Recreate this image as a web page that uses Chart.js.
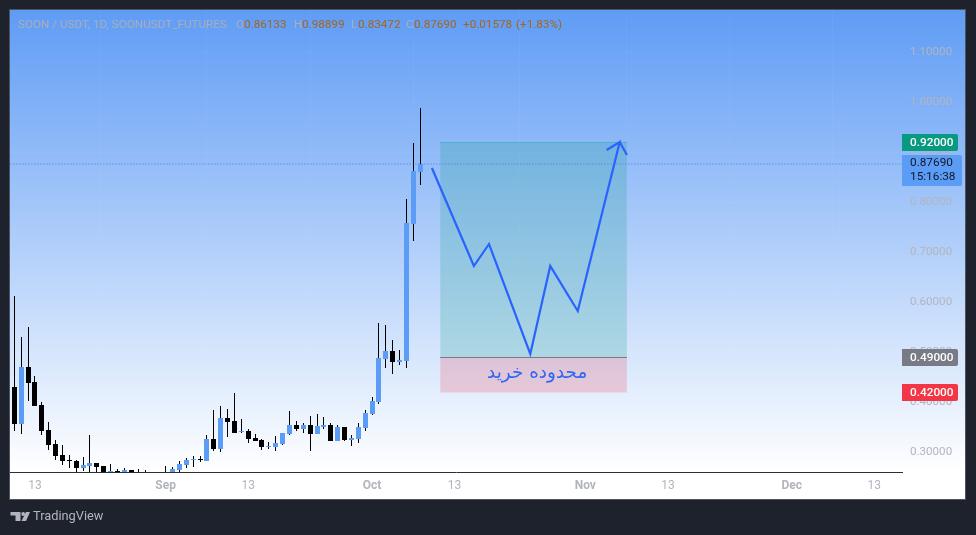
<!DOCTYPE html>
<html>
<head>
<meta charset="utf-8">
<title>SOON / USDT</title>
<style>
  html, body { margin: 0; padding: 0; background: #1e222d; }
  canvas { display: block; }
</style>
<script src="https://cdn.jsdelivr.net/npm/chart.js@4"></script>
</head>
<body>
<canvas id="myChart" width="976" height="535"></canvas>
<script>
// daily candles, index 0 = 10 Aug
var opens = [.431,.357,.471,.441,.395,.345,.317,.295,.285,.283,.269,.273,.279,.273,.257,.263,.257,.265,.255,.251,.237,.241,.245,.253,.265,.275,.285,.287,.283,.327,.307,.369,.363,.341,.343,.329,.325,.311,.311,.317,.337,.355,.347,.355,.337,.351,.355,.323,.351,.325,.327,.349,.377,.401,.487,.503,.481,.483,.757,.86133];
var closes = [.357,.471,.439,.393,.343,.315,.293,.283,.283,.269,.275,.279,.271,.253,.263,.259,.265,.253,.249,.245,.245,.247,.253,.267,.277,.285,.287,.285,.327,.307,.369,.361,.339,.343,.327,.323,.311,.313,.319,.339,.355,.347,.355,.337,.353,.355,.323,.351,.325,.329,.351,.379,.403,.489,.503,.481,.485,.759,.863,.8769];
var highs = [.613,.531,.551,.453,.401,.361,.325,.315,.295,.285,.291,.335,.279,.273,.277,.267,.269,.265,.267,.265,.253,.251,.273,.271,.283,.289,.293,.293,.335,.385,.393,.387,.419,.367,.347,.337,.327,.321,.333,.339,.383,.363,.359,.373,.377,.371,.359,.355,.351,.335,.359,.385,.411,.559,.555,.525,.505,.807,.919,.98899];
var lows = [.343,.337,.403,.393,.335,.305,.285,.275,.269,.255,.263,.249,.249,.241,.245,.245,.249,.249,.241,.237,.229,.233,.241,.245,.261,.269,.271,.281,.283,.303,.301,.331,.339,.339,.319,.323,.305,.307,.303,.315,.335,.343,.339,.303,.337,.347,.323,.323,.323,.313,.319,.343,.375,.397,.469,.457,.475,.469,.723,.83472];

var timeTicks = [3, 22, 34, 52, 64, 83, 95, 113, 125];
var timeLabels = ['13', 'Sep', '13', 'Oct', '13', 'Nov', '13', 'Dec', '13'];
var priceTicks = [0.3, 0.4, 0.5, 0.6, 0.7, 0.8, 0.9, 1.0, 1.1];

// drawn tools
var pathDays = [60.7, 66.8, 69, 75, 77.9, 81.9, 88, 86.1, 88, 89.05];
var pathPrices = [.869, .673, .717, .497, .673, .583, .921, .905, .921, .895];
var boxDays = [61.9, 89.05];
var targetPrice = 0.92;
var entryPrice = 0.49;
var stopPrice = 0.42;
var lastPrice = 0.8769;
var zoneLabel = 'محدوده خرید';
var zoneLabelDay = 76;
var zoneLabelPrice = 0.459;

var uiFont = 'Roboto, "Liberation Sans", sans-serif';
var upColor = '#5b9cf6';
var downColor = '#000000';

var candleColors = opens.map(function (o, i) {
    return closes[i] >= o ? upColor : downColor;
});
var bodies = opens.map(function (o, i) {
    return { x: i, y: [o, closes[i]] };
});
var wicks = highs.map(function (h, i) {
    return { x: i, y: [lows[i], h] };
});
function levelLine(price, days) {
    return days.map(function (d) { return { x: d, y: price }; });
}

var backgroundPlugin = {
    id: 'background',
    beforeDraw: function (chart) {
        var ctx = chart.ctx;
        ctx.save();
        ctx.fillStyle = '#1e222d';
        ctx.fillRect(0, 0, 976, 535);
        var grad = ctx.createLinearGradient(0, 10, 0, 472);
        grad.addColorStop(0, '#5f9cf5');
        grad.addColorStop(1, '#ffffff');
        ctx.fillStyle = grad;
        ctx.fillRect(10, 10, 955, 489);
        ctx.strokeStyle = '#50535e';
        ctx.lineWidth = 1;
        ctx.strokeRect(9.5, 9.5, 956, 490);
        ctx.restore();
    }
};

// snap the candles to whole pixels so the wicks stay sharp
var snapPlugin = {
    id: 'snap',
    beforeDatasetsDraw: function (chart) {
        chart.data.datasets.forEach(function (ds, i) {
            if (ds.type !== 'bar') return;
            chart.getDatasetMeta(i).data.forEach(function (el) {
                el.x = Math.floor(el.x) + 0.5;
                el.y = Math.round(el.y);
                el.base = Math.round(el.base);
                if (el.y === el.base) el.base = el.y + 1;
            });
        });
    }
};

function priceBox(ctx, y, w, color, text, textColor) {
    ctx.fillStyle = color;
    ctx.beginPath();
    ctx.roundRect(902, y - 8.5, w, 17, [0, 2, 2, 0]);
    ctx.fill();
    ctx.fillStyle = textColor;
    ctx.fillText(text, 910, y + 0.5);
}

var overlayPlugin = {
    id: 'overlay',
    afterDraw: function (chart) {
        var ctx = chart.ctx;
        var xs = chart.scales.x;
        var ys = chart.scales.y;
        ctx.save();

        // zone caption
        ctx.fillStyle = '#2f66f5';
        ctx.font = '18.4px "DejaVu Sans"';
        ctx.textAlign = 'center';
        ctx.textBaseline = 'middle';
        ctx.direction = 'rtl';
        ctx.fillText(zoneLabel, xs.getPixelForValue(zoneLabelDay), ys.getPixelForValue(zoneLabelPrice));
        ctx.direction = 'ltr';

        // price labels on the axis
        ctx.textAlign = 'left';
        ctx.font = '500 11.8px ' + uiFont;
        priceBox(ctx, ys.getPixelForValue(targetPrice), 56, '#089981', targetPrice.toFixed(5), '#ffffff');
        priceBox(ctx, ys.getPixelForValue(entryPrice), 56, '#787b86', entryPrice.toFixed(5), '#ffffff');
        priceBox(ctx, ys.getPixelForValue(stopPrice), 56, '#f23645', stopPrice.toFixed(5), '#ffffff');

        ctx.fillStyle = upColor;
        ctx.beginPath();
        ctx.roundRect(902, 155, 60, 31, [0, 2, 2, 0]);
        ctx.fill();
        ctx.fillStyle = '#131722';
        ctx.font = '11.8px ' + uiFont;
        ctx.fillText(lastPrice.toFixed(5), 910, 163.5);
        ctx.fillText('15:16:38', 910, 177.5);

        // header line
        ctx.font = '11.7px ' + uiFont;
        ctx.fillStyle = '#a8aebb';
        ctx.fillText('SOON / USDT, 1D, SOONUSDT_FUTURES', 18, 25);
        ctx.fillText('O', 236, 25);
        ctx.fillText('H', 294, 25);
        ctx.fillText('L', 351, 25);
        ctx.fillText('C', 406, 25);
        ctx.fillStyle = '#a5651f';
        ctx.fillText('0.86133', 244, 25);
        ctx.fillText('0.98899', 302, 25);
        ctx.fillText('0.83472', 358, 25);
        ctx.fillText('0.87690', 414, 25);
        ctx.fillText('+0.01578', 463, 25);
        ctx.fillText('(+1.83%)', 516, 25);

        // footer logo
        ctx.fillStyle = '#b2b5be';
        ctx.beginPath();
        ctx.rect(10.5, 512, 10, 3.5);
        ctx.rect(15.5, 512, 5, 9);
        ctx.fill();
        ctx.beginPath();
        ctx.arc(23.2, 514, 1.9, 0, Math.PI * 2);
        ctx.fill();
        ctx.beginPath();
        ctx.moveTo(26, 512);
        ctx.lineTo(30, 512);
        ctx.lineTo(26, 521);
        ctx.lineTo(21.5, 521);
        ctx.closePath();
        ctx.fill();
        ctx.font = '12.8px ' + uiFont;
        ctx.fillText('TradingView', 33, 517);

        ctx.restore();
    }
};

var ctx = document.getElementById('myChart').getContext('2d');
var myChart = new Chart(ctx, {
    type: 'bar',
    data: {
        datasets: [
            {
                type: 'line', order: 1, data: pathDays.map(function (d, i) { return { x: d, y: pathPrices[i] }; }),
                borderColor: '#2962ff', borderWidth: 2.2, pointRadius: 0, tension: 0, fill: false
            },
            {
                type: 'line', order: 2, data: levelLine(entryPrice, boxDays),
                borderColor: '#787b86', borderWidth: 1, pointRadius: 0, fill: false
            },
            {
                type: 'line', order: 3, data: levelLine(targetPrice, boxDays),
                borderColor: 'rgba(8,153,129,0.3)', borderWidth: 1, pointRadius: 0,
                backgroundColor: 'rgba(8,153,129,0.2)', fill: { value: entryPrice }
            },
            {
                type: 'line', order: 4, data: levelLine(stopPrice, boxDays),
                borderWidth: 0, pointRadius: 0,
                backgroundColor: 'rgba(242,54,69,0.2)', fill: { value: entryPrice }
            },
            {
                type: 'line', order: 5, data: levelLine(lastPrice, [-1, 130]),
                borderColor: '#3f80e8', borderWidth: 1, borderDash: [1, 2], pointRadius: 0, fill: false
            },
            {
                type: 'bar', order: 6, data: bodies, backgroundColor: candleColors,
                barThickness: 5, grouped: false, borderWidth: 0, inflateAmount: 0
            },
            {
                type: 'bar', order: 7, data: wicks, backgroundColor: '#000000',
                barThickness: 1, grouped: false, borderWidth: 0, inflateAmount: 0
            }
        ]
    },
    options: {
        responsive: false,
        animation: false,
        events: [],
        layout: { padding: { left: 10, right: 11, top: 10, bottom: 36 } },
        plugins: {
            legend: { display: false },
            tooltip: { enabled: false },
            title: { display: false }
        },
        scales: {
            x: {
                type: 'linear',
                offset: false,
                min: -0.625,
                max: 129.03,
                afterBuildTicks: function (axis) {
                    axis.ticks = timeTicks.map(function (v) { return { value: v }; });
                },
                afterFit: function (axis) {
                    axis.height = 27;
                    axis.paddingLeft = 0;
                    axis.paddingRight = 0;
                },
                grid: { color: 'rgba(255,255,255,0.04)', drawTicks: false },
                border: { display: true, color: '#2a2e39', width: 1 },
                ticks: {
                    autoSkip: false,
                    maxRotation: 0,
                    padding: 7,
                    color: '#b2b5be',
                    font: function (c) {
                        var bold = c.tick && timeLabels[timeTicks.indexOf(c.tick.value)] !== '13';
                        return { family: uiFont, size: 12, weight: bold ? 'bold' : 'normal' };
                    },
                    callback: function (value) {
                        return timeLabels[timeTicks.indexOf(value)];
                    }
                }
            },
            y: {
                type: 'linear',
                position: 'right',
                min: 0.261,
                max: 1.185,
                afterBuildTicks: function (axis) {
                    axis.ticks = priceTicks.map(function (v) { return { value: v }; });
                },
                afterFit: function (axis) {
                    axis.width = 63;
                    axis.paddingTop = 0;
                    axis.paddingBottom = 0;
                },
                grid: { color: 'rgba(255,255,255,0.04)', drawTicks: false },
                border: { display: false },
                ticks: {
                    padding: 8,
                    color: '#b2b5be',
                    font: { family: uiFont, size: 11.6 },
                    callback: function (value) { return value.toFixed(5); }
                }
            }
        }
    },
    plugins: [backgroundPlugin, snapPlugin, overlayPlugin]
});
</script>
</body>
</html>
